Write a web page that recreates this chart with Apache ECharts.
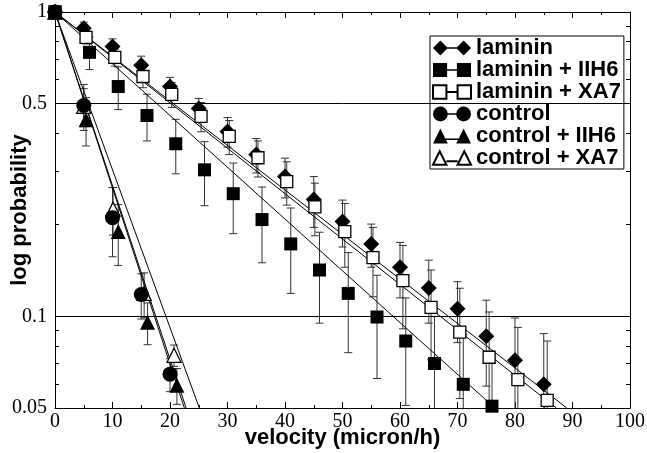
<!DOCTYPE html>
<html>
<head>
<meta charset="utf-8">
<script src="https://cdn.jsdelivr.net/npm/echarts@6/dist/echarts.min.js"></script>
<style>
html,body{margin:0;padding:0;background:#fff;}
#main{width:647px;height:453px;}
</style>
</head>
<body>
<div id="main"></div>
<script>
// series names, same order as the legend
var names = ['laminin', 'laminin + IIH6', 'laminin + XA7', 'control', 'control + IIH6', 'control + XA7'];

// laminin (filled diamonds)
var lamX = [0, 5, 10, 15, 20, 25, 30, 35, 40, 45, 50, 55, 60, 65, 70, 75, 80, 85];
var lamY = [1, 0.884, 0.771, 0.668, 0.569, 0.482, 0.405, 0.340, 0.288, 0.242, 0.205, 0.173, 0.145, 0.124, 0.106, 0.086, 0.0718, 0.0598];
var lamErr = [0, 0.042, 0.045, 0.048, 0.041, 0.038, 0.045, 0.044, 0.043, 0.046, 0.036, 0.028, 0.030, 0.029, 0.024, 0.027, 0.027, 0.028];

// laminin + IIH6 (filled squares)
var iihX = [0, 6, 11, 16, 21, 26, 31, 36, 41, 46, 51, 56, 61, 66, 71, 76];
var iihY = [1, 0.737, 0.569, 0.457, 0.369, 0.303, 0.253, 0.208, 0.173, 0.142, 0.119, 0.0995, 0.083, 0.070, 0.0598, 0.0507];
var iihErr = [0, 0.09, 0.091, 0.08, 0.075, 0.072, 0.066, 0.058, 0.054, 0.047, 0.043, 0.037, 0.032, 0.030, 0.027, 0.025];

// laminin + XA7 (open squares)
var xa7X = [0, 5.4, 10.4, 15.3, 20.3, 25.4, 30.3, 35.3, 40.3, 45.2, 50.4, 55.3, 60.5, 65.4, 70.4, 75.5, 80.5, 85.6];
var xa7Y = [1, 0.825, 0.709, 0.614, 0.536, 0.454, 0.390, 0.332, 0.277, 0.229, 0.190, 0.156, 0.131, 0.107, 0.0887, 0.0734, 0.062, 0.053];
var xa7Err = [0, 0.04, 0.045, 0.05, 0.05, 0.05, 0.05, 0.045, 0.045, 0.045, 0.045, 0.04, 0.04, 0.035, 0.035, 0.03, 0.03, 0.03];

// control (filled circles)
var ctlX = [0, 5, 10, 15, 20];
var ctlY = [1, 0.493, 0.211, 0.118, 0.0646];
var ctlErr = [0, 0.085, 0.054, 0.02, 0.008];

// control + IIH6 (filled triangles)
var ciiX = [0, 5.4, 11, 16.1, 21.2];
var ciiY = [1, 0.443, 0.190, 0.0957, 0.0594];
var ciiErr = [0, 0.08, 0.043, 0.015, 0.008];

// control + XA7 (open triangles)
var cxaX = [0, 5, 10.1, 15.5, 20.7];
var cxaY = [1, 0.49, 0.225, 0.119, 0.0745];
var cxaErr = [0, 0.07, 0.04, 0.02, 0.006];

// velocity where each fitted line reaches 0.05
var fitEnd = [89, 76.5, 87.2, 22.5, 22.8, 25.1];

var xTickLabels = [0, 10, 20, 30, 40, 50, 60, 70, 80, 90, 100];
var yTickLabels = [0.05, 0.1, 0.5, 1];
var yTicks = [0.06, 0.07, 0.08, 0.09, 0.1, 0.2, 0.3, 0.4, 0.5, 0.6, 0.7, 0.8, 0.9];
var gridLines = [0.5, 0.1];

var allX = [lamX, iihX, xa7X, ctlX, ciiX, cxaX];
var allY = [lamY, iihY, xa7Y, ctlY, ciiY, cxaY];
var allErr = [lamErr, iihErr, xa7Err, ctlErr, ciiErr, cxaErr];

var symbols = ['diamond', 'rect', 'rect', 'circle', 'triangle', 'triangle'];
var sizes = [16, 13, 12, 15, 15, 14];
var open = [false, false, true, false, false, true];
var markerZ = [3, 3, 3, 3, 3, 2.9];

var link = 'M13,6.3L23,6.3L23,7.7L13,7.7Z';
var icons = [
    'path://M0,7L7,0L14,7L7,14ZM22,7L29,0L36,7L29,14Z' + link,
    'path://M0.5,0.5L13.5,0.5L13.5,13.5L0.5,13.5ZM22.5,0.5L35.5,0.5L35.5,13.5L22.5,13.5Z' + link,
    'path://M1,1L13,1L13,13L1,13ZM23,1L35,1L35,13L23,13ZM13,7L23,7',
    'path://M0,7A7,7,0,1,1,14,7A7,7,0,1,1,0,7ZM22,7A7,7,0,1,1,36,7A7,7,0,1,1,22,7Z' + link,
    'path://M0,14L7,0L14,14ZM22,14L29,0L36,14ZM12,9.3L24,9.3L24,10.7L12,10.7Z',
    'path://M1,13L7,1L13,13ZM23,13L29,1L35,13ZM13,10L23,10'
];

function errorBars(params, api) {
    var x = api.value(0), y = api.value(1), e = api.value(2);
    if (!e) return;
    var top = api.coord([x, y + e]);
    var bot = api.coord([x, y - e]);
    var w = 4;
    var st = {stroke: '#333', lineWidth: 1};
    return {
        type: 'group',
        children: [
            {type: 'line', shape: {x1: top[0], y1: top[1], x2: bot[0], y2: bot[1]}, style: st},
            {type: 'line', shape: {x1: top[0] - w, y1: top[1], x2: top[0] + w, y2: top[1]}, style: st},
            {type: 'line', shape: {x1: bot[0] - w, y1: bot[1], x2: bot[0] + w, y2: bot[1]}, style: st}
        ]
    };
}

var series = [];
for (var i = 0; i < names.length; i++) {
    var pts = [], errs = [];
    for (var j = 0; j < allX[i].length; j++) {
        pts.push([allX[i][j], allY[i][j]]);
        errs.push([allX[i][j], allY[i][j], allErr[i][j]]);
    }
    series.push({
        type: 'custom',
        renderItem: errorBars,
        data: errs,
        clip: true,
        silent: true,
        z: 1
    });
    var fit = {
        type: 'line',
        data: [[0, 1], [fitEnd[i], 0.05]],
        showSymbol: false,
        symbol: 'none',
        lineStyle: {color: '#000', width: 1},
        clip: true,
        silent: true,
        z: 2
    };
    if (i == 0) {
        fit.markLine = {
            silent: true,
            symbol: 'none',
            label: {show: false},
            lineStyle: {color: '#000', width: 1, type: 'solid'},
            data: gridLines.map(function (v) { return {yAxis: v}; })
        };
    }
    series.push(fit);
    series.push({
        type: 'scatter',
        name: names[i],
        data: pts,
        symbol: symbols[i],
        symbolSize: sizes[i],
        itemStyle: open[i]
            ? {color: '#fff', borderColor: '#000', borderWidth: 1.3, opacity: 1}
            : {color: '#000', borderWidth: 0, opacity: 1},
        z: markerZ[i]
    });
}

var tickFont = {fontFamily: 'Liberation Serif', fontSize: 20, color: '#000'};
var nameFont = {fontFamily: 'Liberation Sans', fontWeight: 'bold', fontSize: 22, color: '#000'};

function xAxis(pos) {
    return {
        type: 'value', min: 0, max: 100, interval: 10, position: pos,
        axisLine: {show: true, onZero: false, lineStyle: {color: '#000', width: 1}},
        axisTick: {inside: true, length: 6, lineStyle: {color: '#000'}},
        minorTick: {show: true, splitNumber: 2, length: 3, lineStyle: {color: '#000'}},
        axisLabel: pos == 'bottom' ? Object.assign({margin: 4, customValues: xTickLabels}, tickFont) : {show: false},
        splitLine: {show: false},
        name: pos == 'bottom' ? 'velocity (micron/h)' : '',
        nameLocation: 'middle',
        nameGap: 19,
        nameMoveOverlap: false,
        nameTextStyle: nameFont
    };
}

function yAxis(pos) {
    return {
        type: 'log', logBase: 10, min: 0.05, max: 1, position: pos,
        axisLine: {show: true, onZero: false, lineStyle: {color: '#000', width: 1}},
        axisTick: {inside: true, length: 4, customValues: yTicks, lineStyle: {color: '#000'}},
        axisLabel: pos == 'left' ? Object.assign({
            margin: 8,
            customValues: yTickLabels,
            formatter: function (v) { return String(+(+v).toPrecision(3)); }
        }, tickFont) : {show: false},
        splitLine: {show: false},
        minorTick: {show: false},
        name: pos == 'left' ? 'log probability' : '',
        nameLocation: 'middle',
        nameGap: 24,
        nameMoveOverlap: false,
        nameTextStyle: nameFont
    };
}

var myChart = echarts.init(document.getElementById('main'));

var option = {
    animation: false,
    backgroundColor: '#fff',
    grid: {left: 55, right: 17, top: 12, bottom: 45, containLabel: false, outerBoundsMode: 'none'},
    xAxis: [xAxis('bottom'), xAxis('top')],
    yAxis: [yAxis('left'), yAxis('right')],
    legend: {
        orient: 'vertical',
        left: 430,
        top: 36,
        padding: [1, 3, 0, 2],
        itemGap: 0,
        itemWidth: 38,
        itemHeight: 15,
        borderColor: '#000',
        borderWidth: 1,
        backgroundColor: '#fff',
        selectedMode: false,
        textStyle: {fontFamily: 'Liberation Sans', fontWeight: 'bold', fontSize: 22, lineHeight: 21.4, color: '#000'},
        data: names.map(function (n, k) { return {name: n, icon: icons[k]}; })
    },
    series: series
};

myChart.setOption(option);
</script>
</body>
</html>
